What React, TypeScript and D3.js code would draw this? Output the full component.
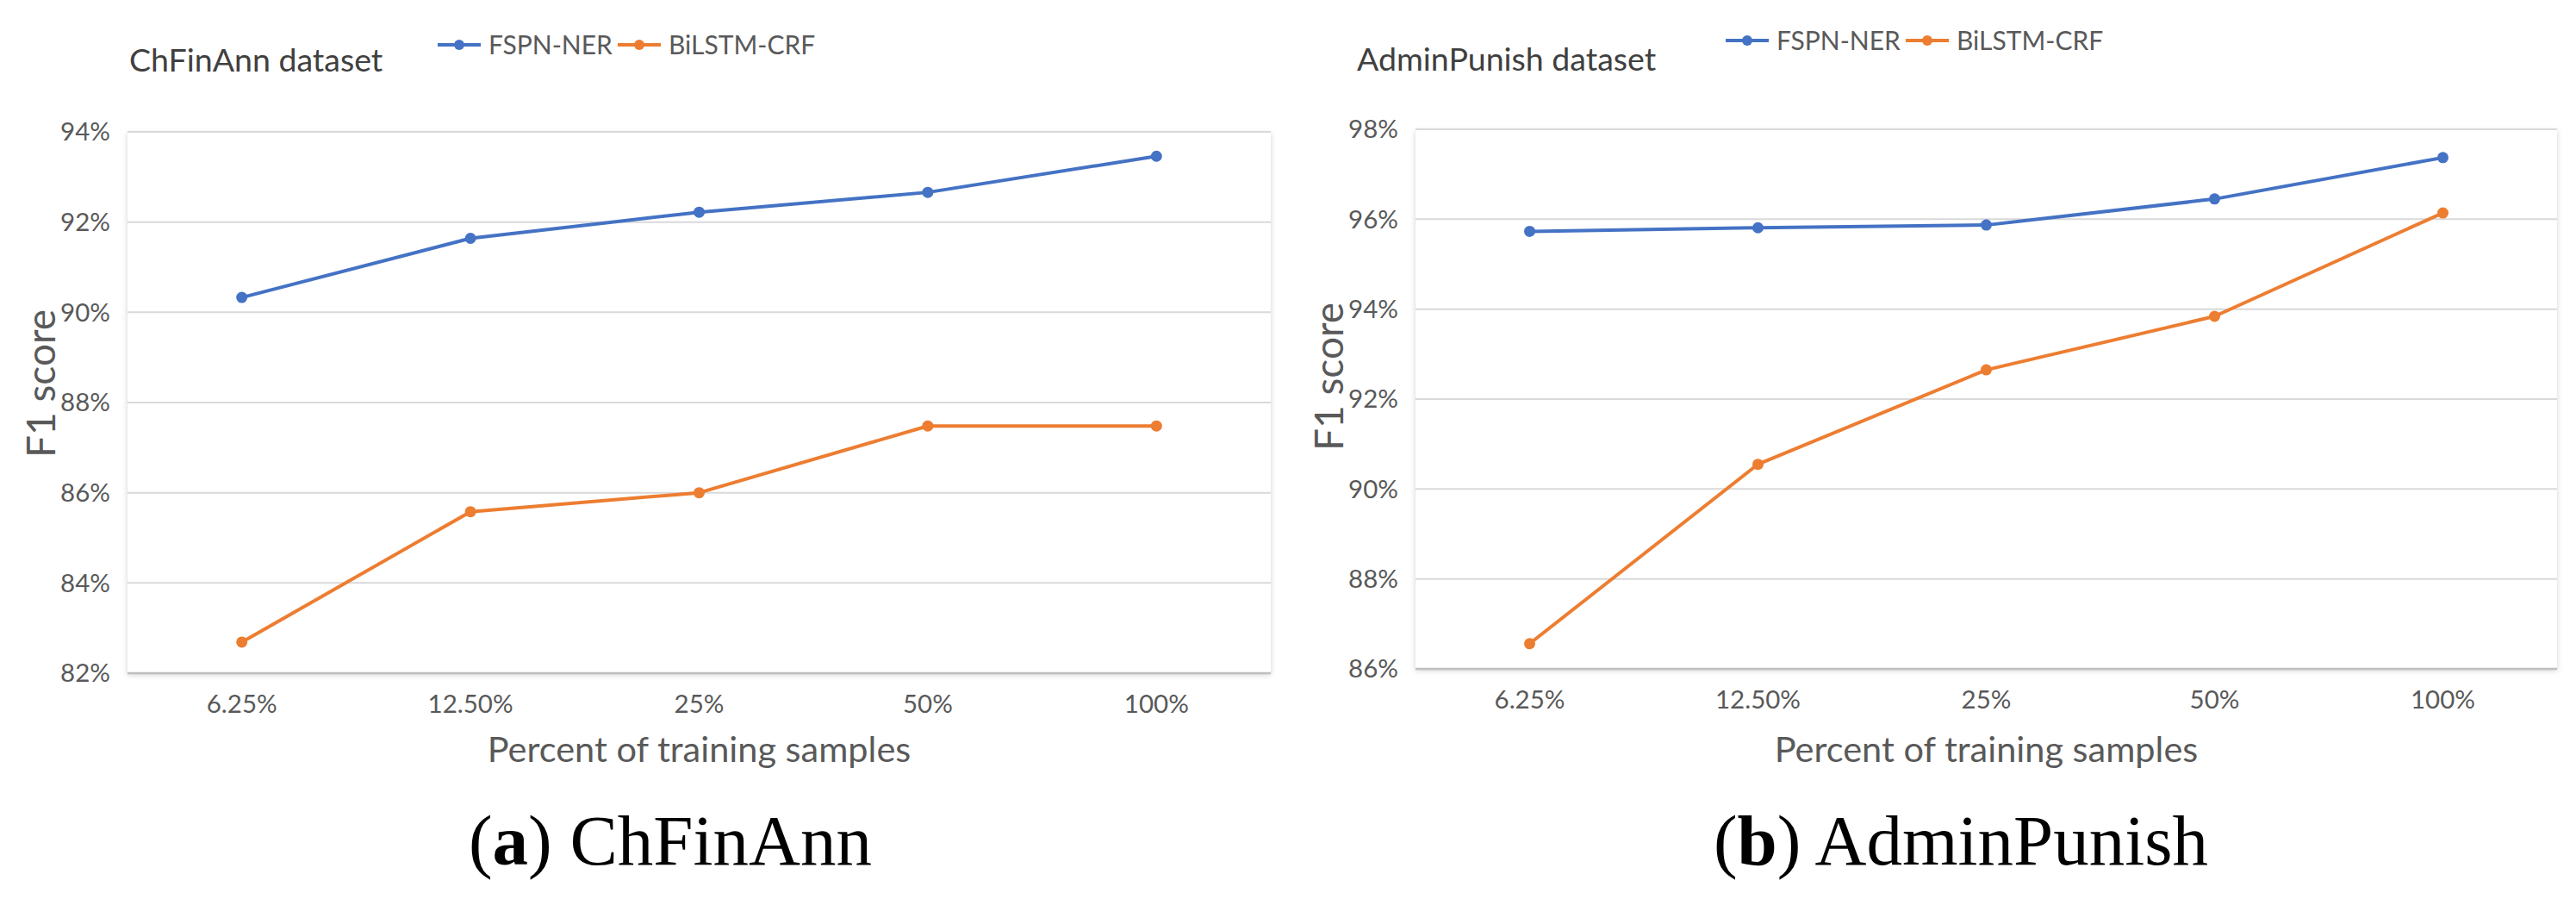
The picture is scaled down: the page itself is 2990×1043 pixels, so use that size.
import { line, scaleLinear, scalePoint } from "d3";

const categories = ["6.25%", "12.50%", "25%", "50%", "100%"];
const seriesNames = ["FSPN-NER", "BiLSTM-CRF"];
const seriesColors = ["#4472C4", "#ED7D31"];

const chFinAnnFspn = [90.33, 91.64, 92.22, 92.66, 93.46];
const chFinAnnBilstm = [82.69, 85.58, 86.0, 87.48, 87.48];
const chFinAnnTicks = [82, 84, 86, 88, 90, 92, 94];

const adminPunishFspn = [95.73, 95.81, 95.87, 96.45, 97.37];
const adminPunishBilstm = [86.56, 90.55, 92.65, 93.84, 96.14];
const adminPunishTicks = [86, 88, 90, 92, 94, 96, 98];

const font = "Lato, 'Open Sans', sans-serif";
const textColor = "#595959";

const Panel = ({
  id,
  left,
  right,
  top,
  bottom,
  ticks,
  series,
  title,
  titleX,
  titleY,
  legendY,
  yTitleY,
  captionTag,
  captionText,
  captionX,
}: any) => {
  const x = scalePoint<string>().domain(categories).range([left, right]).padding(0.5);
  const y = scaleLinear()
    .domain([ticks[0], ticks[ticks.length - 1]])
    .range([bottom, top]);
  const path = line<number>()
    .x((_, i) => x(categories[i]) as number)
    .y((d) => y(d));

  const legendX = left + 360;

  return (
    <g>
      <defs>
        <filter id={`shadow-${id}`} x="-5%" y="-5%" width="110%" height="115%">
          <feDropShadow dx="0" dy="2" stdDeviation="3" floodColor="#000" floodOpacity="0.18" />
        </filter>
      </defs>
      <rect
        x={left}
        y={top}
        width={right - left}
        height={bottom - top}
        fill="#fff"
        filter={`url(#shadow-${id})`}
      />

      {ticks.slice(1).map((t: number) => (
        <line key={t} x1={left} x2={right} y1={y(t)} y2={y(t)} stroke="#d9d9d9" strokeWidth={2} />
      ))}
      <line x1={left} x2={right} y1={bottom} y2={bottom} stroke="#bfbfbf" strokeWidth={2.5} />

      {ticks.map((t: number) => (
        <text
          key={t}
          x={left - 20}
          y={y(t)}
          dy="0.35em"
          textAnchor="end"
          fontSize={29.5}
          fill={textColor}
          fontFamily={font}
        >
          {t}%
        </text>
      ))}

      {categories.map((c) => (
        <text
          key={c}
          x={x(c)}
          y={bottom + 46}
          textAnchor="middle"
          fontSize={29.5}
          fill={textColor}
          fontFamily={font}
        >
          {c}
        </text>
      ))}

      {series.map((s: number[], i: number) => (
        <g key={i}>
          <path d={path(s) as string} fill="none" stroke={seriesColors[i]} strokeWidth={4} strokeLinejoin="round" />
          {s.map((v, j) => (
            <circle key={j} cx={x(categories[j])} cy={y(v)} r={6.5} fill={seriesColors[i]} />
          ))}
        </g>
      ))}

      <text x={titleX} y={titleY} fontSize={37.5} fill="#404040" fontFamily={font}>
        {title}
      </text>

      {seriesNames.map((name, i) => {
        const lx = legendX + i * 209;
        return (
          <g key={name}>
            <line x1={lx} x2={lx + 50} y1={legendY} y2={legendY} stroke={seriesColors[i]} strokeWidth={4} />
            <circle cx={lx + 25} cy={legendY} r={6} fill={seriesColors[i]} />
            <text x={lx + 59} y={legendY + 11} fontSize={30} fill={textColor} fontFamily={font}>
              {name}
            </text>
          </g>
        );
      })}

      <text
        transform={`translate(${left - 84}, ${yTitleY}) rotate(-90)`}
        textAnchor="middle"
        fontSize={46}
        fill={textColor}
        fontFamily={font}
      >
        F1 score
      </text>

      <text
        x={(left + right) / 2}
        y={884}
        textAnchor="middle"
        fontSize={41.5}
        fill={textColor}
        fontFamily={font}
      >
        Percent of training samples
      </text>

      <text
        x={captionX}
        y={1003}
        textAnchor="middle"
        fontSize={83}
        fill="#000"
        fontFamily="'Liberation Serif', 'DejaVu Serif', serif"
      >
        (<tspan fontWeight="bold">{captionTag}</tspan>) {captionText}
      </text>
    </g>
  );
};

export default function App() {
  return (
    <svg
      width={2990}
      height={1043}
      style={{ position: "absolute", left: 0, top: 0, background: "#fff" }}
    >
      <rect width={2990} height={1043} fill="#fff" />
      <Panel
        id="a"
        left={148}
        right={1475}
        top={153}
        bottom={781}
        ticks={chFinAnnTicks}
        series={[chFinAnnFspn, chFinAnnBilstm]}
        title="ChFinAnn dataset"
        titleX={150}
        titleY={83}
        legendY={52}
        yTitleY={445}
        captionTag="a"
        captionText="ChFinAnn"
        captionX={778}
      />
      <Panel
        id="b"
        left={1643}
        right={2968}
        top={150}
        bottom={776}
        ticks={adminPunishTicks}
        series={[adminPunishFspn, adminPunishBilstm]}
        title="AdminPunish dataset"
        titleX={1575}
        titleY={82}
        legendY={47}
        yTitleY={437}
        captionTag="b"
        captionText="AdminPunish"
        captionX={2276}
      />
    </svg>
  );
}
